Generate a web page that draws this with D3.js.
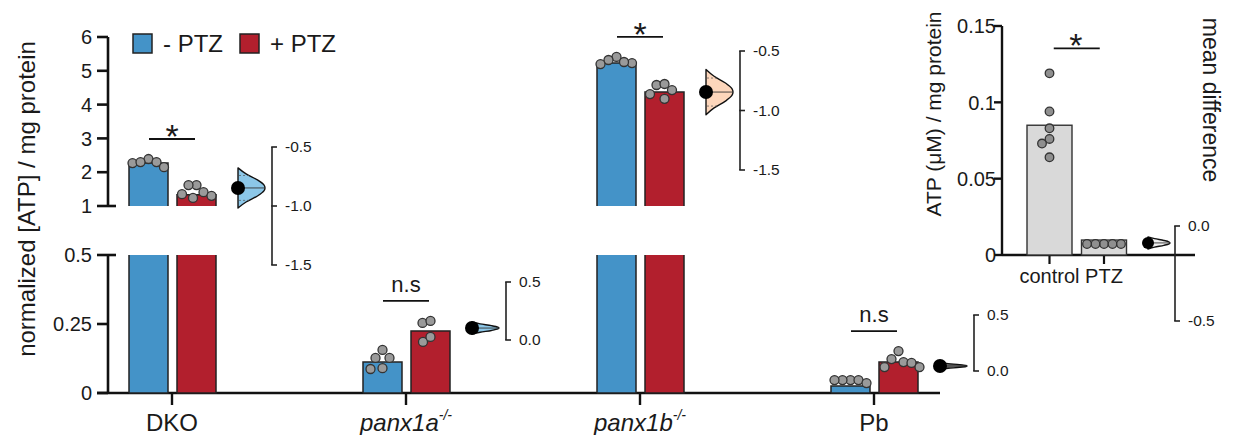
<!DOCTYPE html>
<html>
<head>
<meta charset="utf-8">
<script src="https://cdn.jsdelivr.net/npm/d3@7"></script>
<style>
  body { margin: 0; background: #fff; }
  text { font-family: "Liberation Sans", Arial, sans-serif; fill: #1a1a1a; }
</style>
</head>
<body>
<div id="chart"></div>
<script>
// ---- data ----
const groups = ["DKO", "panx1a", "panx1b", "Pb"];
const meanMinus = [2.27, 0.112, 5.23, 0.025];
const meanPlus = [1.33, 0.225, 4.37, 0.112];
const dotsMinus = [
  [2.27, 2.39, 2.30, 2.30, 2.15],
  [0.127, 0.087, 0.156, 0.090, 0.127],
  [5.23, 5.41, 5.26, 5.32, 5.20],
  [0.047, 0.047, 0.047, 0.047, 0.036]
];
const dotsPlus = [
  [1.62, 1.24, 1.41, 1.62, 1.30, 1.35],
  [0.254, 0.185, 0.261, 0.203],
  [4.58, 4.17, 4.61, 4.31, 4.43],
  [0.094, 0.123, 0.152, 0.112, 0.109, 0.094]
];
const sigLabels = ["*", "n.s", "*", "n.s"];
const meanDiff = [-0.847, 0.103, -0.845, 0.045];
const diffSpread = [0.17, 0.052, 0.19, 0.03];
const diffDomains = [[-0.5, -1.5], [0.5, 0], [-0.5, -1.5], [0.5, 0]];
const diffTicks = [[-0.5, -1.0, -1.5], [0.5, 0.0], [-0.5, -1.0, -1.5], [0.5, 0.0]];
const upperTicks = [1, 2, 3, 4, 5, 6];
const lowerTicks = [0, 0.25, 0.5];

const insetCats = ["control", "PTZ"];
const insetMeans = [0.085, 0.0098];
const insetDots = [
  [0.119, 0.094, 0.083, 0.076, 0.073, 0.064],
  [0.0072, 0.0072, 0.0072, 0.0072, 0.0072]
];
const insetTicks = [0, 0.05, 0.1, 0.15];
const insetDiff = -0.089;
const insetSpread = 0.032;
const insetDiffTicks = [0.0, -0.5];

// half-violin outline: [relative offset from mean, relative width]
const violinShape = [[-1, 0], [-0.7, 0.3], [-0.4, 0.72], [-0.15, 0.96], [0, 1],
                     [0.15, 0.96], [0.4, 0.72], [0.7, 0.3], [1, 0]];

// ---- layout ----
const W = 1236, H = 435;
const blue = "#4493c8", red = "#b21f2d";
const violinFill = ["#8cc7e8", "#8cc7e8", "#fdd6bb", "#6f6f6f"];
const diffRanges = [[147, 265], [282, 340], [51, 170], [315, 371]];
const fmtDiff = t => t.toFixed(1);   // plain hyphen minus, like the figure

const svg = d3.select("#chart").append("svg")
  .attr("width", W).attr("height", H);

const axisX = 108;
const x = d3.scalePoint().domain(groups).range([172, 874]);
const yUp = d3.scaleLinear().domain([1, 6]).range([206, 37]);
const yLo = d3.scaleLinear().domain([0, 0.5]).range([393, 255]);
const yPos = v => v >= 1 ? yUp(v) : yLo(v);
const barW = 39;

// simple deterministic beeswarm (elliptical spacing, wider vertically)
function swarm(vals, yFn, cx, sx, sy) {
  const placed = [];
  const out = new Array(vals.length);
  const order = vals.map((v, i) => i).sort((a, b) => vals[b] - vals[a]);
  order.forEach(i => {
    const y = yFn(vals[i]);
    let off = 0;
    for (let k = 0; k < 400; k++) {
      const o = (k % 2 ? -1 : 1) * Math.ceil(k / 2) * 0.5;
      const ok = placed.every(p => ((p.x - cx - o) / sx) ** 2 + ((p.y - y) / sy) ** 2 >= 1);
      if (ok) { off = o; break; }
    }
    placed.push({ x: cx + off, y });
    out[i] = { x: cx + off, y };
  });
  return out;
}

function barPiece(g, x0, y0, y1, fill, openTop, openBottom) {
  g.append("rect").attr("x", x0).attr("y", y0).attr("width", barW).attr("height", y1 - y0)
    .attr("fill", fill);
  const p = d3.path();
  p.moveTo(x0, y1);
  p.lineTo(x0, y0);
  if (openTop) { p.moveTo(x0 + barW, y0); } else { p.lineTo(x0 + barW, y0); }
  p.lineTo(x0 + barW, y1);
  if (!openBottom) p.lineTo(x0, y1);
  g.append("path").attr("d", p.toString()).attr("fill", "none")
    .attr("stroke", "#222").attr("stroke-width", 1.5);
}

function drawBar(g, x0, v, fill) {
  if (v >= 1) {
    barPiece(g, x0, yUp(v), yUp(1), fill, false, true);
    barPiece(g, x0, yLo(0.5), yLo(0), fill, true, false);
  } else {
    barPiece(g, x0, yLo(v), yLo(0), fill, false, false);
  }
}

function drawViolin(g, x0, dScale, md, spread, width, fill, r, ci) {
  const pts = violinShape.map(([t, w]) => [x0 + w * width, dScale(md - t * spread)]);
  pts[0][0] = x0; pts[pts.length - 1][0] = x0;
  const line = d3.line().curve(d3.curveMonotoneY);
  g.append("path").attr("d", line(pts) + "Z")
    .attr("fill", fill).attr("stroke", "#111").attr("stroke-width", 1.4)
    .attr("stroke-linejoin", "round");
  g.append("line").attr("x1", x0).attr("x2", x0 + width)
    .attr("y1", dScale(md)).attr("y2", dScale(md))
    .attr("stroke", "#333").attr("stroke-width", 0.9);
  if (ci) {
    [-0.62, 0.62].forEach(t => {
      g.append("line").attr("x1", x0 + 1).attr("x2", x0 + width * 0.45)
        .attr("y1", dScale(md + t * spread)).attr("y2", dScale(md + t * spread))
        .attr("stroke", "#555").attr("stroke-width", 0.7).attr("stroke-dasharray", "2,2");
    });
  }
  g.append("circle").attr("cx", x0).attr("cy", dScale(md)).attr("r", r).attr("fill", "#000");
}

function diffAxis(g, ax, dScale, ticks) {
  const dom = dScale.domain();
  g.append("line").attr("x1", ax).attr("x2", ax)
    .attr("y1", dScale(dom[0])).attr("y2", dScale(dom[1]))
    .attr("stroke", "#222").attr("stroke-width", 1.6);
  ticks.forEach(t => {
    g.append("line").attr("x1", ax - 0.8).attr("x2", ax + 5)
      .attr("y1", dScale(t)).attr("y2", dScale(t))
      .attr("stroke", "#222").attr("stroke-width", 1.6);
    g.append("text").attr("x", ax + 13).attr("y", dScale(t))
      .attr("dy", "0.35em").attr("font-size", 15.5).text(fmtDiff(t));
  });
}

// ---- main axes ----
const ax = svg.append("g");
ax.append("line").attr("x1", axisX).attr("x2", axisX).attr("y1", yUp(6)).attr("y2", yUp(1))
  .attr("stroke", "#111").attr("stroke-width", 2.6);
ax.append("line").attr("x1", axisX).attr("x2", axisX).attr("y1", yLo(0.5)).attr("y2", yLo(0))
  .attr("stroke", "#111").attr("stroke-width", 2.6);
upperTicks.forEach(t => {
  ax.append("line").attr("x1", 97).attr("x2", t === 1 ? 116 : axisX)
    .attr("y1", yUp(t)).attr("y2", yUp(t)).attr("stroke", "#111").attr("stroke-width", 2.6);
  ax.append("text").attr("x", 92).attr("y", yUp(t)).attr("dy", "0.36em")
    .attr("text-anchor", "end").attr("font-size", 20).text(t);
});
lowerTicks.forEach(t => {
  ax.append("line").attr("x1", 97).attr("x2", t === 0.5 ? 116 : axisX)
    .attr("y1", yLo(t)).attr("y2", yLo(t)).attr("stroke", "#111").attr("stroke-width", 2.6);
  ax.append("text").attr("x", 92).attr("y", yLo(t)).attr("dy", "0.36em")
    .attr("text-anchor", "end").attr("font-size", 20).text(t);
});
// baseline
ax.append("line").attr("x1", 97).attr("x2", 940).attr("y1", yLo(0)).attr("y2", yLo(0))
  .attr("stroke", "#111").attr("stroke-width", 2.6);

ax.append("text")
  .attr("transform", "translate(35,199) rotate(-90)")
  .attr("text-anchor", "middle").attr("font-size", 24)
  .text("normalized [ATP] / mg protein");

// legend
const leg = svg.append("g");
[["- PTZ", blue, 133], ["+ PTZ", red, 240]].forEach(([lab, col, lx]) => {
  leg.append("rect").attr("x", lx).attr("y", 34).attr("width", 19).attr("height", 19)
    .attr("fill", col).attr("stroke", "#222").attr("stroke-width", 1.5);
  leg.append("text").attr("x", lx + 30).attr("y", 52).attr("font-size", 24).text(lab);
});

// ---- groups ----
groups.forEach((gname, i) => {
  const c = x(gname);
  const g = svg.append("g");

  // x tick + label
  g.append("line").attr("x1", c).attr("x2", c).attr("y1", yLo(0)).attr("y2", yLo(0) + 12)
    .attr("stroke", "#111").attr("stroke-width", 2.4);
  const lab = g.append("text").attr("x", c).attr("y", 431).attr("text-anchor", "middle")
    .attr("font-size", 24);
  if (gname.startsWith("panx")) {
    lab.append("tspan").attr("font-style", "italic").text(gname);
    lab.append("tspan").attr("font-style", "italic").attr("font-size", 14)
      .attr("dy", -11).text("-/-");
  } else {
    lab.text(gname);
  }

  const xb = c - 43, xr = c + 5;
  drawBar(g, xb, meanMinus[i], blue);
  drawBar(g, xr, meanPlus[i], red);

  const dm = swarm(dotsMinus[i], yPos, xb + barW / 2, 8, 14);
  const dp = swarm(dotsPlus[i], yPos, xr + barW / 2, 8, 14);
  g.selectAll("circle.dot").data(dm.concat(dp)).enter().append("circle")
    .attr("class", "dot")
    .attr("cx", d => d.x).attr("cy", d => d.y).attr("r", 4.5)
    .attr("fill", "#9a9a9a").attr("stroke", "#333").attr("stroke-width", 1.3);

  // significance
  const topY = d3.min(dm.concat(dp), d => d.y) - 20;
  g.append("line").attr("x1", c - 23).attr("x2", c + 23).attr("y1", topY).attr("y2", topY)
    .attr("stroke", "#111").attr("stroke-width", 1.8);
  if (sigLabels[i] === "*") {
    g.append("text").attr("x", c).attr("y", topY + 9).attr("text-anchor", "middle")
      .attr("font-size", 34).text("*");
  } else {
    g.append("text").attr("x", c).attr("y", topY - 9).attr("text-anchor", "middle")
      .attr("font-size", 22).text(sigLabels[i]);
  }

  // estimation plot
  const dScale = d3.scaleLinear().domain(diffDomains[i]).range(diffRanges[i]);
  drawViolin(g, c + 66, dScale, meanDiff[i], diffSpread[i], 27, violinFill[i], 7, i === 0 || i === 2);
  diffAxis(g, c + 100, dScale, diffTicks[i]);
});

// ---- inset ----
const ix = d3.scalePoint().domain(insetCats).range([1049.5, 1104]);
const iy = d3.scaleLinear().domain([0, 0.15]).range([255, 26]);
const inset = svg.append("g");
const iAxisX = 1002;
inset.append("line").attr("x1", iAxisX).attr("x2", iAxisX).attr("y1", iy(0.15)).attr("y2", iy(0) + 1)
  .attr("stroke", "#111").attr("stroke-width", 2.4);
insetTicks.forEach(t => {
  inset.append("line").attr("x1", iAxisX - 8).attr("x2", iAxisX).attr("y1", iy(t)).attr("y2", iy(t))
    .attr("stroke", "#111").attr("stroke-width", 2.4);
  inset.append("text").attr("x", 996).attr("y", iy(t)).attr("dy", "0.36em")
    .attr("text-anchor", "end").attr("font-size", 20).text(t);
});
inset.append("line").attr("x1", iAxisX).attr("x2", 1195).attr("y1", iy(0)).attr("y2", iy(0))
  .attr("stroke", "#111").attr("stroke-width", 2.4);
insetCats.forEach((cat, i) => {
  const c = ix(cat);
  inset.append("line").attr("x1", c).attr("x2", c).attr("y1", iy(0)).attr("y2", iy(0) + 9)
    .attr("stroke", "#111").attr("stroke-width", 2.2);
  inset.append("text").attr("x", c).attr("y", 283).attr("text-anchor", "middle")
    .attr("font-size", 20).text(cat);
  inset.append("rect").attr("x", c - 22.5).attr("y", iy(insetMeans[i])).attr("width", 45)
    .attr("height", iy(0) - iy(insetMeans[i]))
    .attr("fill", "#d9d9d9").attr("stroke", "#333").attr("stroke-width", 1.4);
});
const iDots = insetCats.flatMap((cat, i) => swarm(insetDots[i], iy, ix(cat), 8.5, 9));
inset.selectAll("circle.dot").data(iDots).enter().append("circle")
  .attr("class", "dot")
  .attr("cx", d => d.x).attr("cy", d => d.y).attr("r", 4.3)
  .attr("fill", "#8f8f8f").attr("stroke", "#333").attr("stroke-width", 1.3);

const iSigY = d3.min(iDots, d => d.y) - 25;
const iMid = (ix("control") + ix("PTZ")) / 2;
inset.append("line").attr("x1", iMid - 23).attr("x2", iMid + 23).attr("y1", iSigY).attr("y2", iSigY)
  .attr("stroke", "#111").attr("stroke-width", 1.8);
inset.append("text").attr("x", iMid - 1).attr("y", iSigY + 9).attr("text-anchor", "middle")
  .attr("font-size", 34).text("*");

inset.append("text")
  .attr("transform", "translate(941,114) rotate(-90)")
  .attr("text-anchor", "middle").attr("font-size", 21)
  .text("ATP (μM) / mg protein");

const idScale = d3.scaleLinear().domain([0, -0.5]).range([226, 321]);
drawViolin(inset, 1148, idScale, insetDiff, insetSpread, 22, "#eeeeee", 6, false);
diffAxis(inset, 1175, idScale, insetDiffTicks);

inset.append("text")
  .attr("transform", "translate(1203,100) rotate(90)")
  .attr("text-anchor", "middle").attr("font-size", 23)
  .text("mean difference");
</script>
</body>
</html>
